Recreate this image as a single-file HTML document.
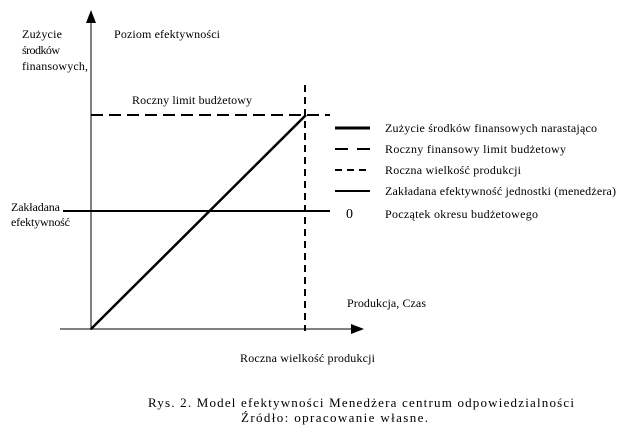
<html><body style="margin:0;background:#fff;width:628px;height:439px;overflow:hidden">
<svg width="628" height="439" xmlns="http://www.w3.org/2000/svg" font-family="Liberation Serif, serif" font-size="12" fill="#000">
<rect width="628" height="439" fill="#fff"/>
<line x1="91" y1="22" x2="91" y2="330" stroke="#000" stroke-width="1"/>
<polygon points="91,10 86,23 96,23" fill="#000"/>
<line x1="60" y1="329" x2="352" y2="329" stroke="#000" stroke-width="1"/>
<polygon points="364,329 351,324 351,334" fill="#000"/>
<line x1="91" y1="329" x2="306" y2="115" stroke="#000" stroke-width="2.5"/>
<line x1="91" y1="115" x2="330" y2="115" stroke="#000" stroke-width="2" stroke-dasharray="12,6"/>
<line x1="305" y1="85" x2="305" y2="331" stroke="#000" stroke-width="2" stroke-dasharray="7,5"/>
<line x1="63" y1="211" x2="330" y2="211" stroke="#000" stroke-width="2"/>
<text x="22" y="38" textLength="40">Zużycie</text>
<text x="22" y="54" textLength="38">środków</text>
<text x="22" y="70" textLength="66">finansowych,</text>
<text x="114" y="38" textLength="106">Poziom efektywności</text>
<text x="132" y="104" textLength="120">Roczny limit budżetowy</text>
<text x="11" y="211" textLength="49">Zakładana</text>
<text x="11" y="226" textLength="59">efektywność</text>
<line x1="335" y1="128" x2="370" y2="128" stroke="#000" stroke-width="3"/>
<line x1="335" y1="149" x2="348" y2="149" stroke="#000" stroke-width="2"/>
<line x1="357" y1="149" x2="370" y2="149" stroke="#000" stroke-width="2"/>
<line x1="335" y1="170" x2="370" y2="170" stroke="#000" stroke-width="2" stroke-dasharray="7,5"/>
<line x1="335" y1="191" x2="370" y2="191" stroke="#000" stroke-width="2"/>
<text x="346" y="218" font-size="14">0</text>
<text x="385" y="132" textLength="212">Zużycie środków finansowych narastająco</text>
<text x="385" y="153" textLength="181">Roczny finansowy limit budżetowy</text>
<text x="385" y="174" textLength="136">Roczna wielkość produkcji</text>
<text x="385" y="195" textLength="231">Zakładana efektywność jednostki (menedżera)</text>
<text x="385" y="218" textLength="153">Początek okresu budżetowego</text>
<text x="347" y="307" textLength="79">Produkcja, Czas</text>
<text x="240" y="362" textLength="135">Roczna wielkość produkcji</text>
<text x="148" y="407" font-size="13" textLength="426">Rys. 2. Model efektywności Menedżera centrum odpowiedzialności</text>
<text x="241" y="422" font-size="13" textLength="187">Źródło: opracowanie własne.</text>
</svg>
</body></html>
